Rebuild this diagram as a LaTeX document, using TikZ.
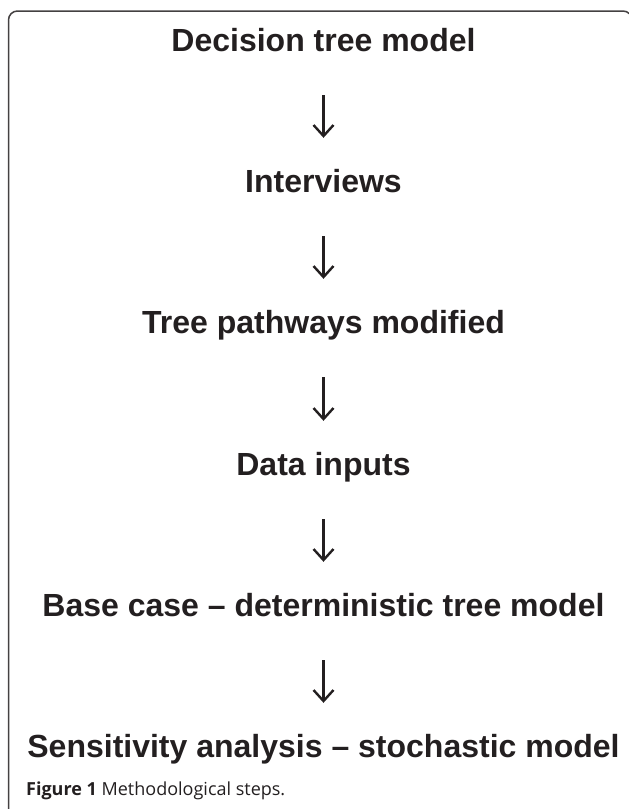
\documentclass[tikz,border=0pt]{standalone}
\usepackage{fontspec}
\setmainfont{Liberation Sans}
\newfontfamily\capfont{Open Sans}
\usetikzlibrary{arrows.meta}
\definecolor{ink}{HTML}{231F20}
\tikzset{
  stepnode/.style={font=\fontsize{32}{38}\selectfont\bfseries, text=ink,
    inner sep=0pt, text height=23pt, text depth=7pt, anchor=base},
  flow/.style={ink, line width=2.4pt,
    -{Straight Barb[length=11pt,width=20pt,line width=2.4pt]},
    shorten <=37pt, shorten >=31pt},
  frame/.style={ink!85, line width=1.5pt, rounded corners=9pt}
}
\begin{document}
\begin{tikzpicture}[x=1pt,y=-1pt]
   \useasboundingbox (0,0) rectangle (629,809);
   \clip (0,0) rectangle (629,809);
   \draw[frame] (8.5,11) rectangle (632,818);
   % steps
   \node[stepnode] (tree)      at (323.5,51)  {Decision tree model};
   \node[stepnode] (interview) at (323.5,192) {Interviews};
   \node[stepnode] (pathway)   at (323.5,333) {Tree pathways modified};
   \node[stepnode] (inputs)    at (323.5,475) {Data inputs};
   \node[stepnode] (basecase)  at (323.5,616) {Base case -- deterministic tree model};
   \node[stepnode] (sensitiv)  at (323.5,757) {Sensitivity analysis -- stochastic model};
   % arrows
   \draw[flow] (tree.south) -- (interview.north);
   \draw[flow] (interview.south) -- (pathway.north);
   \draw[flow] (pathway.south) -- (inputs.north);
   \draw[flow] (inputs.south) -- (basecase.north);
   \draw[flow] (basecase.south) -- (sensitiv.north);
   % caption
   \node[anchor=base west, inner sep=0pt, text=ink,
     font=\capfont\fontsize{18}{22}\selectfont] (caption) at (26,795)
     {\textbf{Figure 1} Methodological steps.};
\end{tikzpicture}
\end{document}
